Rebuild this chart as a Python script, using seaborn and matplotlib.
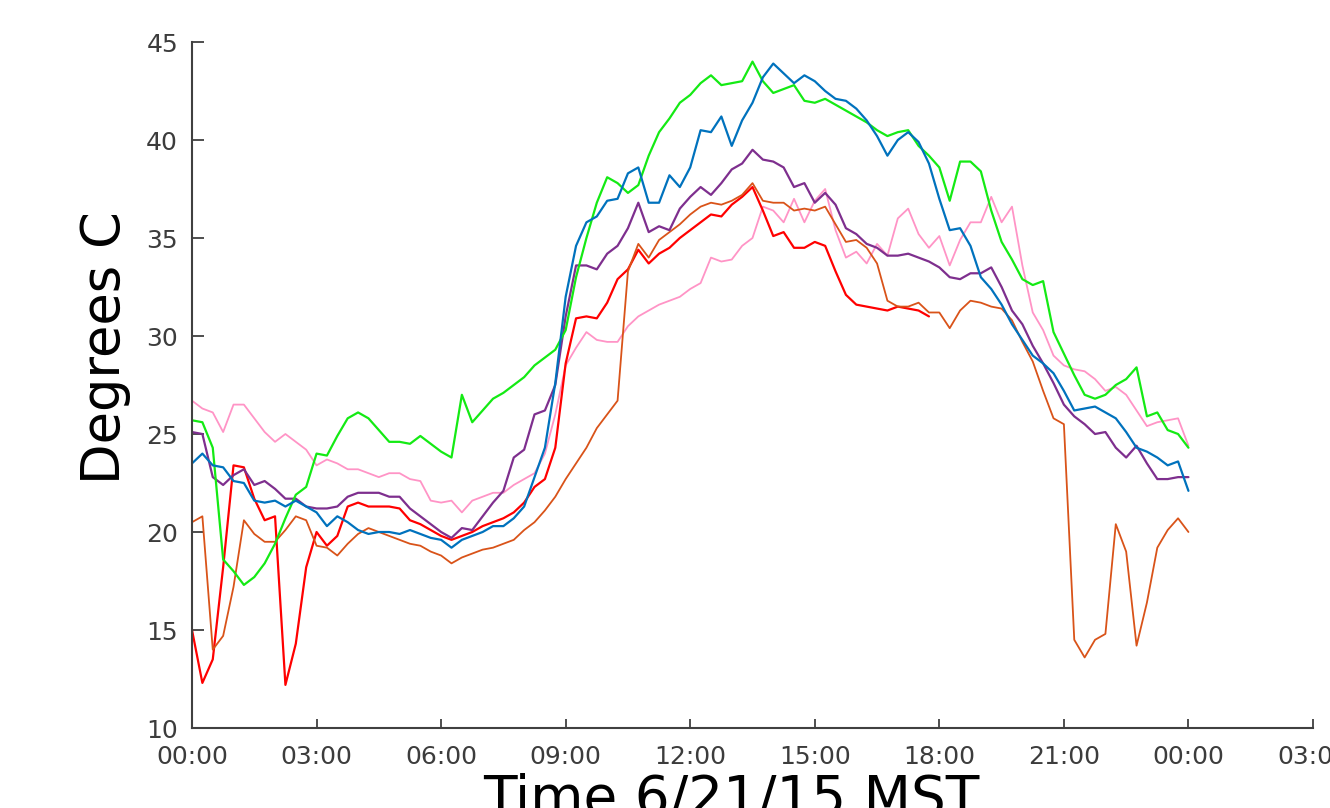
import numpy as np
import pandas as pd
import matplotlib
matplotlib.use("Agg")
import matplotlib.pyplot as plt
import seaborn as sns

nan = np.nan

# time of day in hours, 15-minute steps (0:00 .. 24:00)
hours = [i * 0.25 for i in range(97)]

tick_hours = [0, 3, 6, 9, 12, 15, 18, 21, 24, 27]
tick_labels = ["00:00", "03:00", "06:00", "09:00", "12:00", "15:00",
               "18:00", "21:00", "00:00", "03:00"]
y_ticks = [10, 15, 20, 25, 30, 35, 40, 45]

green = [
    25.7, 25.6, 24.3, 18.6, 18.0, 17.3, 17.7, 18.4,
    19.4, 20.7, 21.9, 22.3,
    24.0, 23.9, 24.9, 25.8,
    26.1, 25.8, 25.2, 24.6,
    24.6, 24.5, 24.9, 24.5,
    24.1, 23.8, 27.0, 25.6,
    26.2, 26.8, 27.1, 27.5,
    27.9, 28.5, 28.9, 29.3,
    30.3, 33.0, 35.0, 36.8,
    38.1, 37.8, 37.3, 37.7,
    39.2, 40.4, 41.1, 41.9,
    42.3, 42.9, 43.3, 42.8,
    42.9, 43.0, 44.0, 43.0,
    42.4, 42.6, 42.8, 42.0,
    41.9, 42.1, 41.8, 41.5,
    41.2, 40.9, 40.5, 40.2,
    40.4, 40.5, 39.7, 39.2,
    38.6, 36.9, 38.9, 38.9,
    38.4, 36.4, 34.8, 33.9,
    32.9, 32.6, 32.8, 30.2,
    29.1, 28.0, 27.0, 26.8,
    27.0, 27.5, 27.8, 28.4,
    25.9, 26.1, 25.2, 25.0,
    24.3]

blue = [
    23.5, 24.0, 23.4, 23.3, 22.6, 22.5, 21.6, 21.5,
    21.6, 21.3, 21.6, 21.3,
    21.0, 20.3, 20.8, 20.5,
    20.1, 19.9, 20.0, 20.0,
    19.9, 20.1, 19.9, 19.7,
    19.6, 19.2, 19.6, 19.8,
    20.0, 20.3, 20.3, 20.7,
    21.3, 22.8, 24.3, 27.6,
    32.0, 34.6, 35.8, 36.1,
    36.9, 37.0, 38.3, 38.6,
    36.8, 36.8, 38.2, 37.6,
    38.6, 40.5, 40.4, 41.2,
    39.7, 41.0, 41.9, 43.2,
    43.9, 43.4, 42.9, 43.3,
    43.0, 42.5, 42.1, 42.0,
    41.6, 41.0, 40.2, 39.2,
    40.0, 40.4, 39.9, 38.8,
    37.0, 35.4, 35.5, 34.6,
    33.0, 32.4, 31.6, 30.6,
    29.8, 29.0, 28.6, 28.1,
    27.2, 26.2, 26.3, 26.4,
    26.1, 25.8, 25.1, 24.3,
    24.1, 23.8, 23.4, 23.6,
    22.1]

purple = [
    25.1, 25.0, 22.8, 22.4, 22.9, 23.2, 22.4, 22.6,
    22.2, 21.7, 21.7, 21.3,
    21.2, 21.2, 21.3, 21.8,
    22.0, 22.0, 22.0, 21.8,
    21.8, 21.2, 20.8, 20.4,
    20.0, 19.7, 20.2, 20.1,
    20.8, 21.5, 22.1, 23.8,
    24.2, 26.0, 26.2, 27.5,
    31.0, 33.6, 33.6, 33.4,
    34.2, 34.6, 35.5, 36.8,
    35.3, 35.6, 35.4, 36.5,
    37.1, 37.6, 37.2, 37.8,
    38.5, 38.8, 39.5, 39.0,
    38.9, 38.6, 37.6, 37.8,
    36.8, 37.3, 36.7, 35.5,
    35.2, 34.7, 34.5, 34.1,
    34.1, 34.2, 34.0, 33.8,
    33.5, 33.0, 32.9, 33.2,
    33.2, 33.5, 32.5, 31.3,
    30.6, 29.5, 28.6, 27.6,
    26.5, 25.9, 25.5, 25.0,
    25.1, 24.3, 23.8, 24.4,
    23.5, 22.7, 22.7, 22.8,
    22.8]

red = [
    15.0, 12.3, 13.5, 18.2, 23.4, 23.3, 21.7, 20.6,
    20.8, 12.2, 14.3, 18.2,
    20.0, 19.3, 19.8, 21.3,
    21.5, 21.3, 21.3, 21.3,
    21.2, 20.6, 20.4, 20.1,
    19.8, 19.6, 19.8, 20.0,
    20.3, 20.5, 20.7, 21.0,
    21.5, 22.3, 22.7, 24.3,
    28.6, 30.9, 31.0, 30.9,
    31.7, 32.9, 33.4, 34.4,
    33.7, 34.2, 34.5, 35.0,
    35.4, 35.8, 36.2, 36.1,
    36.7, 37.1, 37.6, 36.4,
    35.1, 35.3, 34.5, 34.5,
    34.8, 34.6, 33.3, 32.1,
    31.6, 31.5, 31.4, 31.3,
    31.5, 31.4, 31.3, 31.0,
    nan, nan, nan, nan, nan, nan, nan, nan, nan, nan,
    nan, nan, nan, nan, nan, nan, nan, nan, nan, nan,
    nan, nan, nan, nan, nan]

orange = [
    20.5, 20.8, 14.0, 14.7, 17.2, 20.6, 19.9, 19.5,
    19.5, 20.1, 20.8, 20.6,
    19.3, 19.2, 18.8, 19.4,
    19.9, 20.2, 20.0, 19.8,
    19.6, 19.4, 19.3, 19.0,
    18.8, 18.4, 18.7, 18.9,
    19.1, 19.2, 19.4, 19.6,
    20.1, 20.5, 21.1, 21.8,
    22.7, 23.5, 24.3, 25.3,
    26.0, 26.7, 33.3, 34.7,
    34.0, 34.9, 35.3, 35.7,
    36.2, 36.6, 36.8, 36.7,
    36.9, 37.2, 37.8, 36.9,
    36.8, 36.8, 36.4, 36.5,
    36.4, 36.6, 35.7, 34.8,
    34.9, 34.5, 33.7, 31.8,
    31.5, 31.5, 31.7, 31.2,
    31.2, 30.4, 31.3, 31.8,
    31.7, 31.5, 31.4, 30.8,
    29.7, 28.7, 27.2, 25.8,
    25.5, 14.5, 13.6, 14.5,
    14.8, 20.4, 19.0, 14.2,
    16.4, 19.2, 20.1, 20.7,
    20.0]

pink = [
    26.7, 26.3, 26.1, 25.1, 26.5, 26.5, 25.8, 25.1,
    24.6, 25.0, 24.6, 24.2,
    23.4, 23.7, 23.5, 23.2,
    23.2, 23.0, 22.8, 23.0,
    23.0, 22.7, 22.6, 21.6,
    21.5, 21.6, 21.0, 21.6,
    21.8, 22.0, 22.0, 22.4,
    22.7, 23.0, 24.0, 26.0,
    28.5, 29.4, 30.2, 29.8,
    29.7, 29.7, 30.5, 31.0,
    31.3, 31.6, 31.8, 32.0,
    32.4, 32.7, 34.0, 33.8,
    33.9, 34.6, 35.0, 36.6,
    36.4, 35.8, 37.0, 35.8,
    36.9, 37.5, 35.4, 34.0,
    34.3, 33.7, 34.7, 34.1,
    36.0, 36.5, 35.2, 34.5,
    35.1, 33.6, 34.9, 35.8,
    35.8, 37.1, 35.8, 36.6,
    33.6, 31.2, 30.3, 29.0,
    28.5, 28.3, 28.2, 27.8,
    27.2, 27.4, 27.0, 26.2,
    25.4, 25.6, 25.7, 25.8,
    24.4]

series = [
    ("pink", pink, "#ff94c6", 1.3),
    ("red", red, "#ff0000", 1.6),
    ("orange", orange, "#d95319", 1.3),
    ("purple", purple, "#7e2f8e", 1.6),
    ("green", green, "#14ea14", 1.6),
    ("blue", blue, "#0072bd", 1.6),
]

sns.set_theme(style="white")
plt.rcParams["font.family"] = ["DejaVu Sans"]

fig = plt.figure(figsize=(13.3, 8.08), dpi=100)
ax = fig.add_axes([192 / 1330, 1 - 728 / 808, (1313 - 192) / 1330, (728 - 42) / 808])

for name, vals, color, lw in series:
    df = pd.DataFrame({"hour": hours, "temp": vals})
    sns.lineplot(data=df, x="hour", y="temp", color=color, linewidth=lw,
                 estimator=None, ax=ax)

ax.set_xlim(0, 27)
ax.set_ylim(10, 45)
ax.set_xticks(tick_hours)
ax.set_xticklabels(tick_labels)
ax.set_yticks(y_ticks)
ax.set_yticklabels([str(v) for v in y_ticks])
ax.set_xlabel("")
ax.set_ylabel("")

for side in ["top", "right"]:
    ax.spines[side].set_visible(False)
for side in ["left", "bottom"]:
    ax.spines[side].set_color("#404040")
    ax.spines[side].set_linewidth(1.5)

ax.tick_params(axis="x", direction="in", length=6.5, width=1.3, color="#404040",
               labelsize=18, labelcolor="#3c3c3c", pad=12, bottom=True)
ax.tick_params(axis="y", direction="in", length=8.5, width=1.3, color="#404040",
               labelsize=18, labelcolor="#3c3c3c", pad=10, left=True)

fig.text(120 / 1330, 1 - 348 / 808, "Degrees C", rotation=90, rotation_mode="anchor",
         ha="center", va="baseline", fontsize=38, color="black")
fig.text(731 / 1330, 1 - 815 / 808, "Time 6/21/15 MST", ha="center", va="baseline",
         fontsize=39.5, color="black")

fig.savefig("out.png", dpi=100)
